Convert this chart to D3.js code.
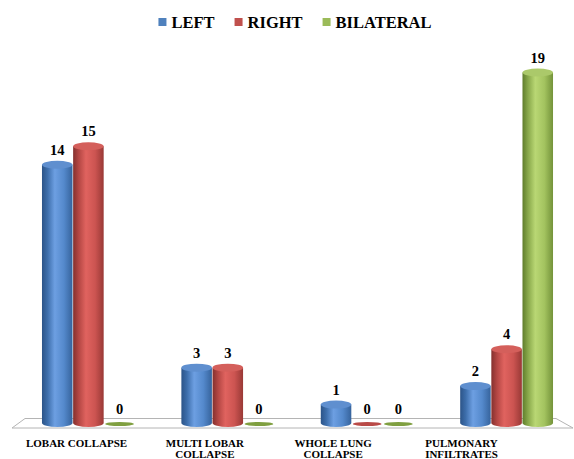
<!DOCTYPE html>
<html>
<head>
<meta charset="utf-8">
<script src="https://cdn.jsdelivr.net/npm/d3@7"></script>
<style>
  html, body { margin: 0; padding: 0; background: #fff; }
  svg { display: block; }
</style>
</head>
<body>
<script>
// Findings by location and side
const categories = ["LOBAR COLLAPSE", "MULTI LOBAR COLLAPSE", "WHOLE LUNG COLLAPSE", "PULMONARY INFILTRATES"];
const categoryLines = [["LOBAR COLLAPSE"], ["MULTI LOBAR", "COLLAPSE"], ["WHOLE LUNG", "COLLAPSE"], ["PULMONARY", "INFILTRATES"]];
const seriesNames = ["LEFT", "RIGHT", "BILATERAL"];
const leftValues = [14, 3, 1, 2];
const rightValues = [15, 3, 0, 4];
const bilateralValues = [0, 0, 0, 19];

const W = 574, H = 459;
const FONT = "'Liberation Serif', Tinos, 'Times New Roman', Times, 'DejaVu Serif', serif";
const series = [
  { name: "LEFT", values: leftValues, base: "#4F81BD", stops: ["#2c5488", "#3d6eab", "#6d9fe2", "#5489cc", "#36639c"], top: "#5f8fcf", zero: "#3d6eab" },
  { name: "RIGHT", values: rightValues, base: "#C0504D", stops: ["#84302e", "#b34643", "#e0635f", "#cc5451", "#993936"], top: "#d45f5b", zero: "#b94a47" },
  { name: "BILATERAL", values: bilateralValues, base: "#9BBB59", stops: ["#5f7d2c", "#88a84a", "#b9d774", "#a3c35f", "#74933a"], top: "#abc96a", zero: "#7f9f40" }
];

const svg = d3.select("body").append("svg").attr("width", W).attr("height", H)
  .attr("font-family", FONT).attr("font-weight", "bold");
const defs = svg.append("defs");
series.forEach((s, i) => {
  const g = defs.append("linearGradient").attr("id", "cyl" + i)
    .attr("x1", "0%").attr("x2", "100%").attr("y1", "0%").attr("y2", "0%");
  const offs = [0, 0.18, 0.42, 0.72, 1];
  s.stops.forEach((c, k) => g.append("stop").attr("offset", offs[k]).attr("stop-color", c));
});

const x0 = d3.scaleBand().domain(categories).range([18.7, 576.3]).paddingInner(0.334).paddingOuter(0.167);
const x1 = d3.scaleBand().domain(seriesNames).range([0, x0.bandwidth()]).paddingInner(0.02);
const y = d3.scaleLinear().domain([0, 19]).range([423, 72.5]);

// floor
const base = y(0);
const floor = [
  [25, base - 4.5], [556, base - 4.5], [573, base + 5], [12, base + 5]
];
svg.append("path")
  .attr("d", d3.line()(floor) + "Z")
  .attr("fill", "#fff").attr("stroke", "#b4b4b4").attr("stroke-width", 1);

// legend
const legend = svg.append("g");
let lx = 0;
series.forEach((s, i) => {
  const it = legend.append("g").attr("transform", `translate(${lx},0)`);
  it.append("rect").attr("x", 0).attr("y", 18).attr("width", 8).attr("height", 8).attr("fill", s.base);
  const t = it.append("text").attr("x", 13).attr("y", 27.5)
    .attr("font-family", FONT).attr("font-weight", "bold").attr("font-size", 16.5).attr("fill", "#000").text(s.name);
  lx += 13 + t.node().getComputedTextLength() + 20;
});
const legendW = lx - 20;
legend.attr("transform", `translate(${295 - legendW / 2},0)`);

// bars
const ry = 4;
const groups = svg.append("g").selectAll("g").data(categories).join("g")
  .attr("transform", d => `translate(${x0(d)},0)`);

series.forEach((s, i) => {
  groups.each(function (cat, ci) {
    const v = s.values[ci];
    const g = d3.select(this);
    const r = x1.bandwidth() / 2;
    const cx = x1(s.name) + r;
    const yt = y(v), yb = y(0);
    if (v > 0) {
      g.append("path")
        .attr("d", `M${cx - r},${yt} L${cx - r},${yb} A${r},${ry} 0 0 0 ${cx + r},${yb} L${cx + r},${yt} Z`)
        .attr("fill", `url(#cyl${i})`);
      g.append("ellipse").attr("cx", cx).attr("cy", yt).attr("rx", r).attr("ry", ry)
        .attr("fill", s.top);
    } else {
      g.append("ellipse").attr("cx", cx).attr("cy", yb + 1).attr("rx", r - 1).attr("ry", 2)
        .attr("fill", s.zero);
    }
    g.append("text").attr("x", cx).attr("y", yt - (v > 0 ? 10 : 9))
      .attr("text-anchor", "middle")
      .attr("font-family", FONT).attr("font-weight", "bold").attr("font-size", 14.5).attr("fill", "#000")
      .text(v);
  });
});

// category axis along the front edge of the floor
const xl = d3.scalePoint().domain(categories).range([76, 461]);
const axis = svg.append("g").attr("transform", `translate(0,${base + 23.5})`)
  .call(d3.axisBottom(xl).tickSize(0).tickPadding(0));
axis.attr("font-family", FONT).attr("font-size", 11).attr("font-weight", "bold");
axis.select(".domain").remove();
axis.selectAll(".tick text").each(function (d, i) {
  const t = d3.select(this).text(null).attr("y", 0).attr("dy", null)
    .attr("font-family", FONT).attr("font-weight", "bold").attr("font-size", 11).attr("fill", "#000");
  categoryLines[i].forEach((ln, k) => {
    t.append("tspan").attr("x", 0).attr("y", k * 11.5).text(ln);
  });
});
</script>
</body>
</html>
